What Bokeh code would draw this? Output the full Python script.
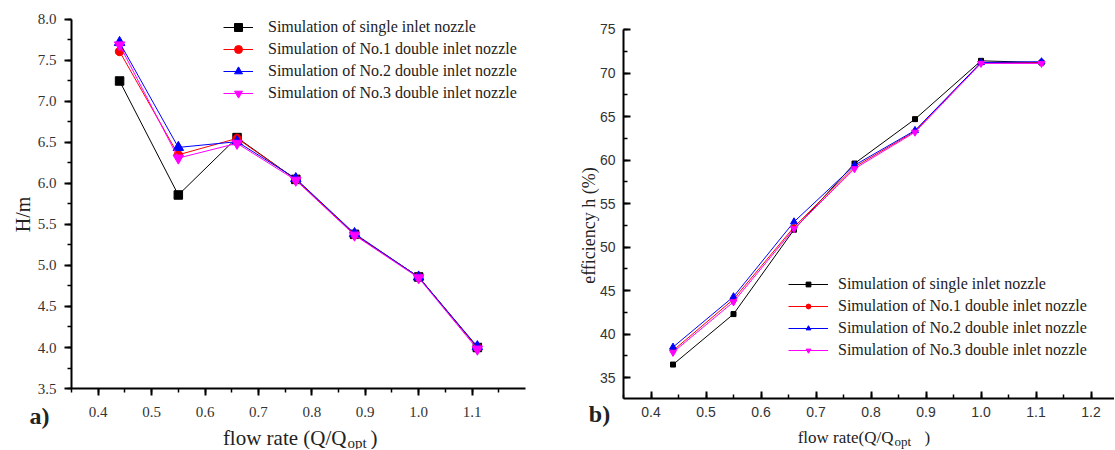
import math
from bokeh.plotting import figure
from bokeh.layouts import row
from bokeh.models import (Legend, LegendItem, Label, SingleIntervalTicker,
                          NumeralTickFormatter, Range1d, LinearAxis)
from bokeh.embed import file_html
from bokeh.resources import INLINE

flow = [0.44, 0.55, 0.66, 0.77, 0.88, 1.00, 1.11]
series_names = ["Simulation of single inlet nozzle",
                "Simulation of No.1 double inlet nozzle",
                "Simulation of No.2 double inlet nozzle",
                "Simulation of No.3 double inlet nozzle"]

head_single = [7.25, 5.86, 6.56, 6.05, 5.38, 4.86, 4.00]
head_no1 = [7.61, 6.35, 6.55, 6.05, 5.38, 4.86, 4.00]
head_no2 = [7.72, 6.44, 6.51, 6.06, 5.39, 4.86, 4.01]
head_no3 = [7.69, 6.31, 6.49, 6.04, 5.37, 4.85, 3.98]

eff_single = [36.5, 42.3, 52.0, 59.6, 64.7, 71.4, 71.2]
eff_no1 = [38.1, 44.0, 52.3, 59.2, 63.3, 71.2, 71.2]
eff_no2 = [38.5, 44.3, 52.9, 59.4, 63.4, 71.2, 71.3]
eff_no3 = [37.9, 43.7, 52.1, 59.0, 63.2, 71.1, 71.1]

colors = ["#000000", "#ff0000", "#0000ff", "#ff00ff"]
markers = ["square", "circle", "triangle", "inverted_triangle"]

SERIF = "Liberation Serif"
SANS = "Liberation Sans"
H = 449


def make_axes(p, tick_font, font_size, inward, xb, yb, ytick_int, yfmt, xstand):
    xa = LinearAxis(fixed_location=yb[0], bounds=xb,
                    ticker=SingleIntervalTicker(interval=0.1, num_minor_ticks=2),
                    formatter=NumeralTickFormatter(format="0.0"))
    ya = LinearAxis(fixed_location=xb[0], bounds=yb,
                    ticker=SingleIntervalTicker(interval=ytick_int, num_minor_ticks=2),
                    formatter=NumeralTickFormatter(format=yfmt))
    for ax in (xa, ya):
        ax.axis_line_width = 2
        ax.axis_line_color = "#000000"
        ax.major_tick_line_width = 2
        ax.minor_tick_line_width = 1.5
        ax.major_tick_line_color = "#000000"
        ax.minor_tick_line_color = "#000000"
        if inward:
            ax.major_tick_in, ax.major_tick_out = 7, 0
            ax.minor_tick_in, ax.minor_tick_out = 4, 0
        else:
            ax.major_tick_in, ax.major_tick_out = 0, 7
            ax.minor_tick_in, ax.minor_tick_out = 0, 4
        ax.major_label_text_font = tick_font
        ax.major_label_text_font_size = font_size
        ax.major_label_text_color = "#333333"
        ax.major_label_standoff = 8
    xa.major_label_standoff = xstand
    p.add_layout(xa, "below")
    p.add_layout(ya, "left")
    p.xgrid.visible = False
    p.ygrid.visible = False
    p.outline_line_color = None


def txt(p, x, y, text, size, align="left", font=SERIF, angle=0.0, style="normal"):
    p.add_layout(Label(x=x, y=y, x_units="screen", y_units="screen", text=text,
                       angle=angle, text_align=align, text_baseline="middle",
                       text_font=font, text_font_size=size, text_font_style=style,
                       text_color="#222222"))


# ---------------- left figure ----------------
p1 = figure(width=560, height=H, output_backend="svg", toolbar_location=None,
            x_range=Range1d(0.2170, 1.2657), y_range=Range1d(2.7561, 8.2317),
            x_axis_location=None, y_axis_location=None,
            min_border_left=0, min_border_right=0, min_border_top=0,
            min_border_bottom=0)
make_axes(p1, SERIF, "15px", False, (0.35, 1.2), (3.5, 8.0), 0.5, "0.0", 11)

heads = [head_single, head_no1, head_no2, head_no3]
items1 = []
for name, ys, c, m in zip(series_names, heads, colors, markers):
    ln = p1.line(flow, ys, line_color=c, line_width=1)
    sc = p1.scatter(flow, ys, marker=m, size=8.5 if m in ("square", "circle") else 10.5,
                    fill_color=c, line_color=c)
    items1.append(LegendItem(label=name, renderers=[ln, sc]))

leg1 = Legend(items=items1, location=(223, 346), border_line_alpha=0,
              background_fill_alpha=0, padding=0, margin=0, glyph_width=30,
              glyph_height=20, label_standoff=15, spacing=2, label_height=20,
              label_text_font=SERIF, label_text_font_size="16px",
              label_text_color="#222222")
p1.add_layout(leg1)

txt(p1, 22, 235, "H/m", "20px", align="center", angle=math.pi / 2)
txt(p1, 39, 34, "a)", "24px", align="center", style="bold")
txt(p1, 346, 12, "flow rate (Q/Q", "21px", align="right")
txt(p1, 347, 7, "opt", "15px")
txt(p1, 370, 12, ")", "21px")

# ---------------- right figure ----------------
p2 = figure(width=554, height=H, output_backend="svg", toolbar_location=None,
            x_range=Range1d(0.23545, 1.2427), y_range=Range1d(26.740, 78.332),
            x_axis_location=None, y_axis_location=None,
            min_border_left=0, min_border_right=0, min_border_top=0,
            min_border_bottom=0)
make_axes(p2, SANS, "14px", True, (0.35, 1.2427), (32.6, 75.0), 5, "0", 8)

effs = [eff_single, eff_no1, eff_no2, eff_no3]
items2 = []
for name, ys, c, m in zip(series_names, effs, colors, markers):
    ln = p2.line(flow, ys, line_color=c, line_width=1)
    sc = p2.scatter(flow, ys, marker=m, size=5 if m in ("square", "circle") else 7,
                    fill_color=c, line_color=c)
    items2.append(LegendItem(label=name, renderers=[ln, sc]))

leg2 = Legend(items=items2, location=(228, 89), border_line_alpha=0,
              background_fill_alpha=0, padding=0, margin=0, glyph_width=40,
              glyph_height=12, label_standoff=10, spacing=2, label_height=20,
              label_text_font=SERIF, label_text_font_size="16px",
              label_text_color="#222222")
p2.add_layout(leg2)

txt(p2, 28, 224, "efficiency h (%)", "18px", align="center", angle=math.pi / 2)
txt(p2, 39, 36, "b)", "24px", align="center", style="bold")
txt(p2, 333, 12, "flow rate(Q/Q", "17px", align="right")
txt(p2, 334, 8, "opt", "13px")
txt(p2, 364, 12, ")", "17px")

layout = row(p1, p2, spacing=0)
open("out.html", "w").write(file_html(layout, INLINE))
